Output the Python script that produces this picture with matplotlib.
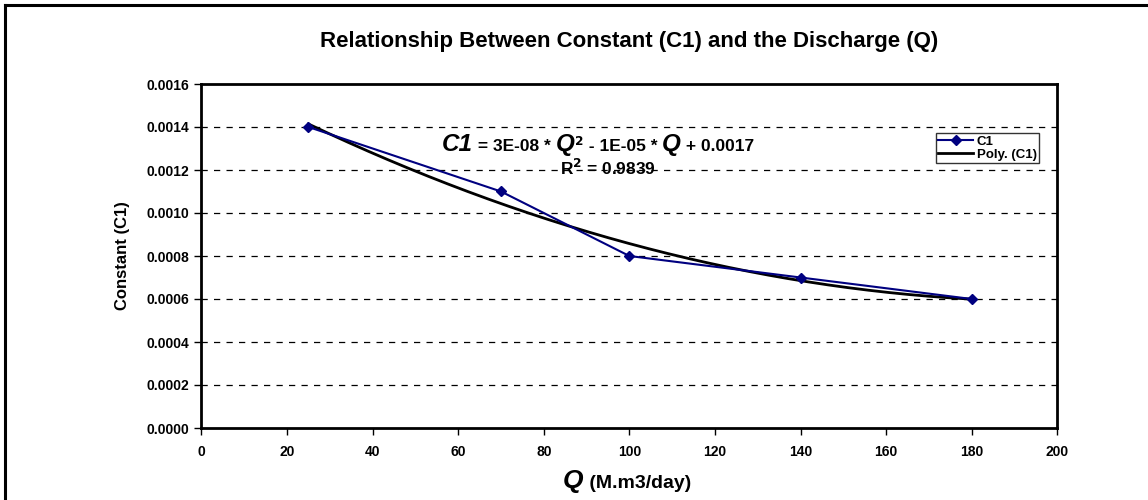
import numpy as np
import matplotlib.pyplot as plt
from matplotlib.lines import Line2D

plt.rcParams['font.family'] = ['Liberation Sans', 'DejaVu Sans']
plt.rcParams['font.weight'] = 'bold'

# data
q_values = [25, 70, 100, 140, 180]
c1_values = [0.0014, 0.0011, 0.0008, 0.0007, 0.0006]
x_ticks = [0, 20, 40, 60, 80, 100, 120, 140, 160, 180, 200]
y_ticks = [0.0000, 0.0002, 0.0004, 0.0006, 0.0008, 0.0010, 0.0012, 0.0014, 0.0016]

fig = plt.figure(figsize=(11.48, 5.0), dpi=100)
ax = fig.add_axes([0.1755, 0.144, 0.7455, 0.688])

# outer chart frame (left and top edges only visible)
fig.add_artist(Line2D([0.0045, 0.0045], [0.0, 0.99], transform=fig.transFigure,
                      color='black', lw=2.2))
fig.add_artist(Line2D([0.0045, 1.0], [0.99, 0.99], transform=fig.transFigure,
                      color='black', lw=2.2))

# trend line (2nd order polynomial)
coef = np.polyfit(q_values, c1_values, 2)
qq = np.linspace(min(q_values), max(q_values), 200)
ax.plot(qq, np.polyval(coef, qq), color='black', lw=2.0, label='Poly. (C1)', zorder=3)
ax.plot(q_values, c1_values, color='#000080', lw=1.5, marker='D', markersize=5,
        label='C1', zorder=4)

ax.set_xlim(0, 200)
ax.set_ylim(0, 0.0016)
ax.set_xticks(x_ticks)
ax.set_yticks(y_ticks)
ax.set_yticklabels([f'{v:.4f}' for v in y_ticks])
ax.tick_params(axis='both', direction='out', length=5, width=1, labelsize=10, pad=4)
ax.tick_params(axis='x', pad=7)
for lab in ax.get_xticklabels() + ax.get_yticklabels():
    lab.set_fontweight('bold')

for v in y_ticks[1:-1]:
    ax.axhline(v, color='black', lw=0.9, ls=(0, (5, 5)), zorder=1)

for s in ax.spines.values():
    s.set_linewidth(2.0)
    s.set_color('black')

ax.set_ylabel('Constant (C1)', fontsize=12, fontweight='bold', labelpad=12)

fig.text(0.548, 0.917, 'Relationship Between Constant (C1) and the Discharge (Q)',
         ha='center', va='center', fontsize=16, fontweight='bold')

leg = ax.legend(handles=[ax.lines[1], ax.lines[0]], loc='upper left',
                bbox_to_anchor=(0.858, 0.858), fontsize=9.5, frameon=True,
                fancybox=False, borderpad=0.2, handlelength=2.6,
                labelspacing=0.05, handletextpad=0.3, borderaxespad=0)
leg.get_frame().set_edgecolor('black')
leg.get_frame().set_linewidth(1.0)
for t in leg.get_texts():
    t.set_fontweight('bold')

fig.canvas.draw()
renderer = fig.canvas.get_renderer()


def rich_line(parts, xc, y):
    """draw a row of text pieces centred at xc (figure pixels)"""
    items = []
    for txt, size, style in parts:
        t = fig.text(0, y / 500, txt, fontsize=size, fontweight='bold', fontstyle=style,
                     ha='left', va='baseline', transform=fig.transFigure)
        items.append(t)
    fig.canvas.draw()
    widths = [t.get_window_extent(renderer).width for t in items]
    x = xc - sum(widths) / 2
    for t, w in zip(items, widths):
        t.set_x(x / 1148)
        x += w
    return items


rich_line([('C1', 17.5, 'italic'), (' = 3E-08 * ', 12.5, 'normal'), ('Q', 17.5, 'italic'),
           ('$^2$', 12.5, 'normal'), (' - 1E-05 * ', 12.5, 'normal'), ('Q', 17.5, 'italic'),
           (' + 0.0017', 12.5, 'normal')], 598, 500 - 151)
rich_line([('R$^2$ = 0.9839', 12.5, 'normal')], 608, 500 - 175)

rich_line([('Q', 19, 'italic'), (' (M.m3/day)', 14, 'normal')], 627, 500 - 488)

fig.savefig('out.png', dpi=100)
